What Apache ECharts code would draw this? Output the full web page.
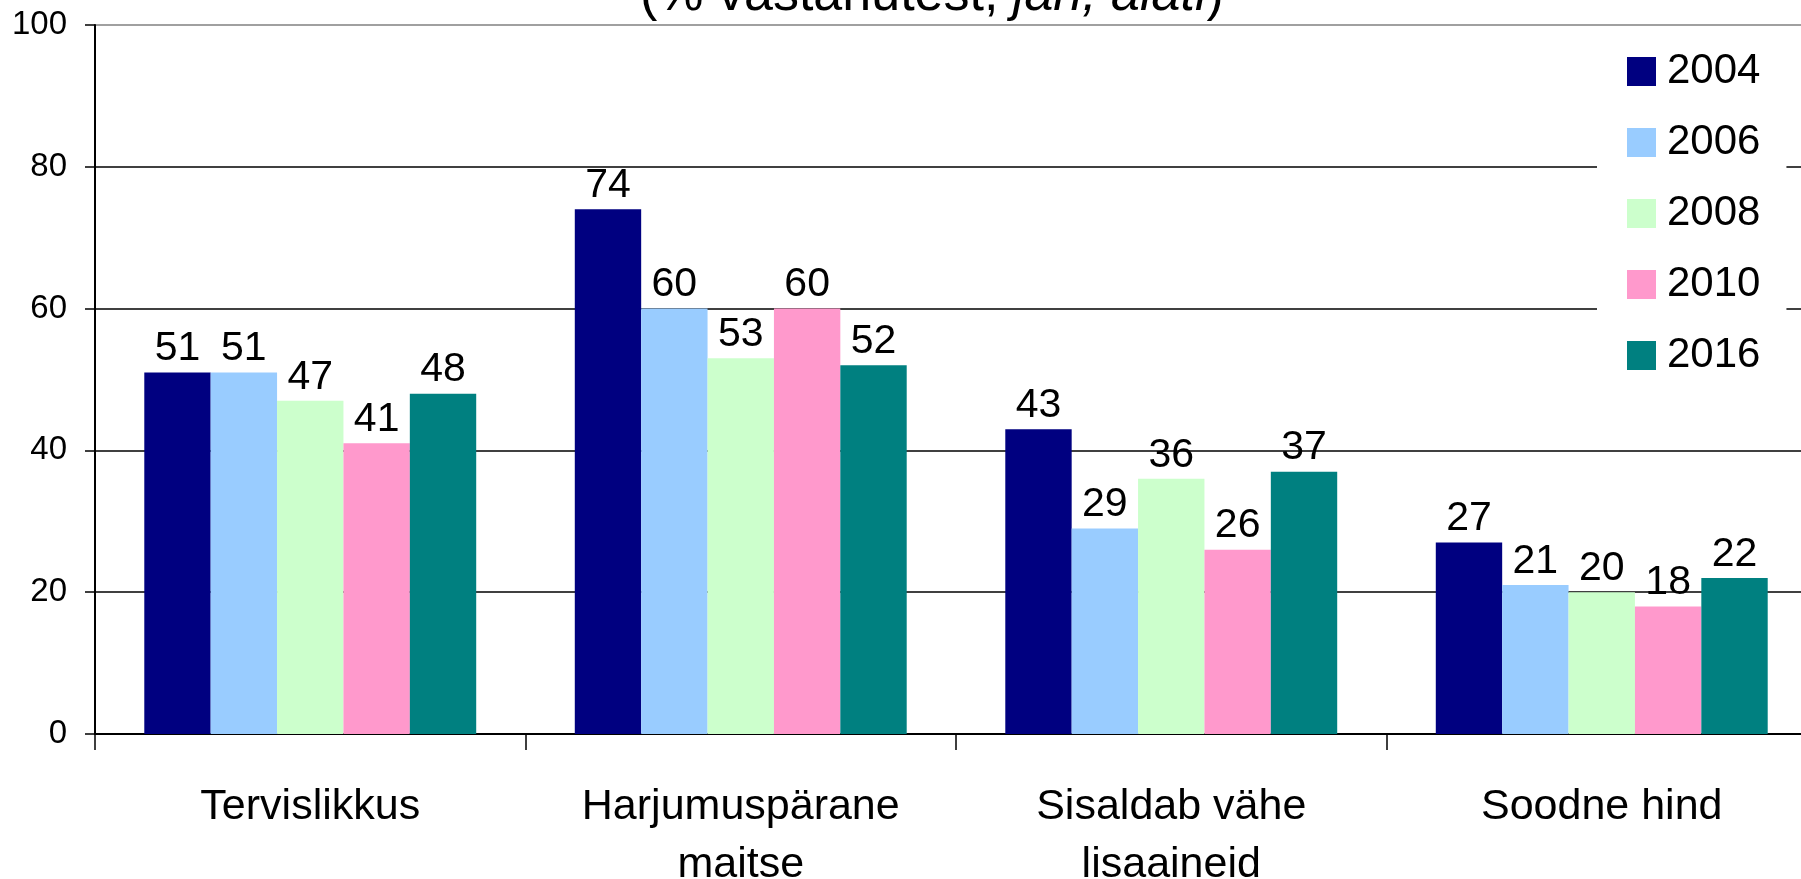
<!DOCTYPE html>
<html><head><meta charset="utf-8">
<script src="https://cdn.jsdelivr.net/npm/echarts@6/dist/echarts.min.js"></script>
<style>html,body{margin:0;padding:0;background:#fff;overflow:hidden}#c{width:1801px;height:879px}</style>
</head><body><div id="c"></div>
<script>
const categories = ['Tervislikkus', 'Harjumuspärane\nmaitse', 'Sisaldab vähe\nlisaaineid', 'Soodne hind'];
const seriesNames = ['2004', '2006', '2008', '2010', '2016'];
const v2004 = [51, 74, 43, 27];
const v2006 = [51, 60, 29, 21];
const v2008 = [47, 53, 36, 20];
const v2010 = [41, 60, 26, 18];
const v2016 = [48, 52, 37, 22];
const colors = ['#000080', '#99CCFF', '#CCFFCC', '#FF99CC', '#008080'];
const yTicks = [0, 20, 40, 60, 80, 100];

const values = [v2004, v2006, v2008, v2010, v2016];
const font = 'Liberation Sans, Arial, sans-serif';
const chart = echarts.init(document.getElementById('c'));
chart.setOption({
  animation: false,
  backgroundColor: '#fff',
  textStyle: { fontFamily: font, color: '#000' },
  title: {
    text: '{n|(% vastanutest, }{i|jah, alati}{n|)}',
    left: 640, top: -30, padding: 0,
    textStyle: {
      rich: {
        n: { fontFamily: font, fontSize: 52, color: '#000', fontWeight: 'normal' },
        i: { fontFamily: font, fontSize: 52, color: '#000', fontStyle: 'italic', fontWeight: 'normal' }
      }
    }
  },
  legend: {
    orient: 'vertical',
    left: 1597, top: 37,
    padding: [13, 26, 13, 30],
    backgroundColor: '#fff',
    itemWidth: 29, itemHeight: 29, itemGap: 28,
    icon: 'rect',
    data: seriesNames,
    textStyle: { fontFamily: font, fontSize: 42, lineHeight: 43, color: '#000', padding: [0, 0, 0, 6] }
  },
  grid: { left: 95, top: 25, width: 1722, bottom: 145, containLabel: false, outerBoundsMode: 'none' },
  xAxis: {
    type: 'category',
    data: categories,
    axisLine: { lineStyle: { color: '#000', width: 2 } },
    axisTick: { show: true, length: 16, lineStyle: { color: '#000', width: 1.5 } },
    axisLabel: { fontFamily: font, fontSize: 43, color: '#000', margin: 44, lineHeight: 58, interval: 0 }
  },
  yAxis: {
    type: 'value', min: yTicks[0], max: yTicks[yTicks.length - 1], interval: 20,
    axisLine: { show: true, lineStyle: { color: '#000', width: 2 } },
    axisTick: { show: true, length: 10, lineStyle: { color: '#000', width: 1.5 } },
    axisLabel: { fontFamily: font, fontSize: 33, color: '#000', margin: 28 },
    splitLine: { show: true, lineStyle: { color: ['#000', '#000', '#000', '#000', '#000', '#808080'], width: 1.5 } }
  },
  series: seriesNames.map((n, i) => ({
    name: n, type: 'bar', data: values[i],
    barGap: '0%', barCategoryGap: '22.9%',
    itemStyle: { color: colors[i] },
    label: { show: true, position: 'top', distance: 3, fontFamily: font, fontSize: 41, color: '#000' }
  }))
});
</script></body></html>
